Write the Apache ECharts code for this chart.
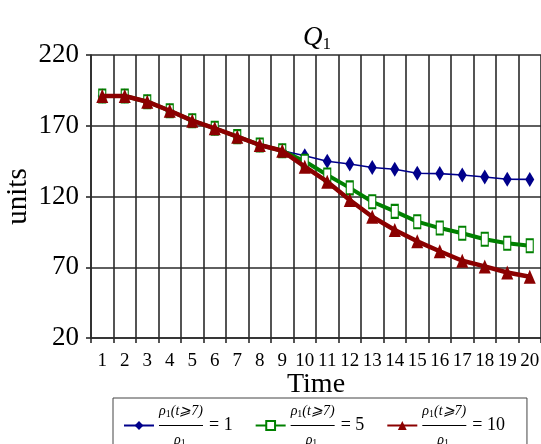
<!DOCTYPE html>
<html>
<head>
<meta charset="utf-8">
<script src="https://cdn.jsdelivr.net/npm/echarts@6/dist/echarts.min.js"></script>
<style>html,body{margin:0;padding:0;background:#fff}#c{width:541px;height:444px}</style>
</head>
<body>
<div id="c"></div>
<script>
const categories = ['1','2','3','4','5','6','7','8','9','10','11','12','13','14','15','16','17','18','19','20'];
const yTicks = [20, 70, 120, 170, 220];
const seriesNames = ['ratio1', 'ratio5', 'ratio10'];
const ratioValues = ['1', '5', '10'];
const seriesRatio1 = [191.0,191.0,187.0,180.6,173.6,168.2,162.3,156.4,152.3,148.8,144.9,143.0,140.5,139.3,136.4,136.2,135.2,133.8,132.2,132.1];
const seriesRatio5 = [191.0,191.0,187.0,180.6,173.6,168.2,162.3,156.4,152.3,144.9,135.2,126.1,116.3,109.5,102.2,97.7,94.0,89.8,86.9,85.2];
const seriesRatio10 = [191.0,191.0,187.0,180.6,173.6,168.2,162.3,156.4,152.3,141.1,130.5,117.5,105.7,96.3,88.3,81.3,74.6,70.6,66.3,63.3];

const SERIF = "'Liberation Serif', 'DejaVu Serif', serif";
const gridColor = '#2a2a2a';

const chart = echarts.init(document.getElementById('c'), null, {renderer: 'canvas'});
const ratioByName = {};
seriesNames.forEach((n, i) => ratioByName[n] = ratioValues[i]);

chart.setOption({
  animation: false,
  backgroundColor: '#fff',
  title: {
    text: '{q|Q}{s|1}',
    left: 312,
    textAlign: 'center',
    top: 17,
    textStyle: {
      fontWeight: 'normal',
      rich: {
        q: {fontFamily: SERIF, fontStyle: 'italic', fontWeight: 'normal', fontSize: 27, color: '#000'},
        s: {fontFamily: SERIF, fontWeight: 'normal', fontSize: 17, color: '#000', padding: [14, 0, 0, 0]}
      }
    }
  },
  grid: {left: 91, right: 0, top: 55, bottom: 106, containLabel: false, outerBoundsMode: 'none'},
  xAxis: {
    type: 'category',
    data: categories,
    boundaryGap: true,
    name: 'Time',
    nameLocation: 'middle',
    nameGap: 33,
    nameMoveOverlap: false,
    nameTextStyle: {fontFamily: SERIF, fontSize: 28, color: '#000'},
    axisLine: {show: true, lineStyle: {color: gridColor, width: 1.6}},
    axisTick: {show: true, length: 5, alignWithLabel: false, interval: 0, lineStyle: {color: gridColor, width: 1.6}},
    axisLabel: {fontFamily: SERIF, fontSize: 19, color: '#000', margin: 14, interval: 0},
    splitLine: {show: true, interval: 0, lineStyle: {color: gridColor, width: 1.6}}
  },
  yAxis: {
    type: 'value',
    min: yTicks[0],
    max: yTicks[yTicks.length - 1],
    interval: yTicks[1] - yTicks[0],
    name: 'units',
    nameLocation: 'middle',
    nameGap: 58,
    nameMoveOverlap: false,
    nameTextStyle: {fontFamily: SERIF, fontSize: 29, color: '#000'},
    axisLine: {show: true, lineStyle: {color: gridColor, width: 1.6}},
    axisTick: {show: true, length: 5, lineStyle: {color: gridColor, width: 1.6}},
    axisLabel: {fontFamily: SERIF, fontSize: 27, color: '#000', margin: 12},
    splitLine: {show: true, lineStyle: {color: gridColor, width: 1.6}}
  },
  legend: {
    left: 113,
    top: 398,
    orient: 'horizontal',
    padding: [5, 22, 8, 10],
    itemGap: 22,
    itemWidth: 30,
    itemHeight: 11,
    backgroundColor: '#fff',
    borderColor: '#444',
    borderWidth: 1,
    borderRadius: 0,
    data: seriesNames,
    formatter: function (name) {
      return '{n|ρ}{ns|1}{n|(t⩾7)}\n{b| }{e|= ' + ratioByName[name] + '}\n{d|ρ}{ds|1}';
    },
    textStyle: {
      rich: {
        n: {fontFamily: SERIF, fontStyle: 'italic', fontSize: 14, lineHeight: 13, color: '#000'},
        ns: {fontFamily: SERIF, fontSize: 10, lineHeight: 13, color: '#000', padding: [6, 0, 0, 0]},
        b: {width: 44, height: 1.2, backgroundColor: '#000', lineHeight: 16},
        e: {fontFamily: SERIF, fontSize: 18, lineHeight: 16, color: '#000', padding: [0, 0, 0, 6]},
        d: {fontFamily: SERIF, fontStyle: 'italic', fontSize: 14, lineHeight: 13, color: '#000', padding: [0, 0, 0, 15]},
        ds: {fontFamily: SERIF, fontSize: 10, lineHeight: 13, color: '#000', padding: [6, 0, 0, 0]}
      }
    }
  },
  series: [
    {
      name: seriesNames[0], type: 'line', data: seriesRatio1,
      symbol: 'diamond', symbolSize: [9, 15],
      lineStyle: {color: '#00008b', width: 1.6},
      itemStyle: {color: '#00008b', borderWidth: 0},
      z: 2
    },
    {
      name: seriesNames[1], type: 'line', data: seriesRatio5,
      symbol: 'rect', symbolSize: [7, 13],
      lineStyle: {color: '#008000', width: 4},
      itemStyle: {color: '#fff', borderColor: '#008000', borderWidth: 1.5},
      z: 3
    },
    {
      name: seriesNames[2], type: 'line', data: seriesRatio10,
      symbol: 'triangle', symbolSize: [12, 14],
      lineStyle: {color: '#8b0000', width: 4.5},
      itemStyle: {color: '#8b0000', borderWidth: 0},
      z: 4
    }
  ]
});
</script>
</body>
</html>
